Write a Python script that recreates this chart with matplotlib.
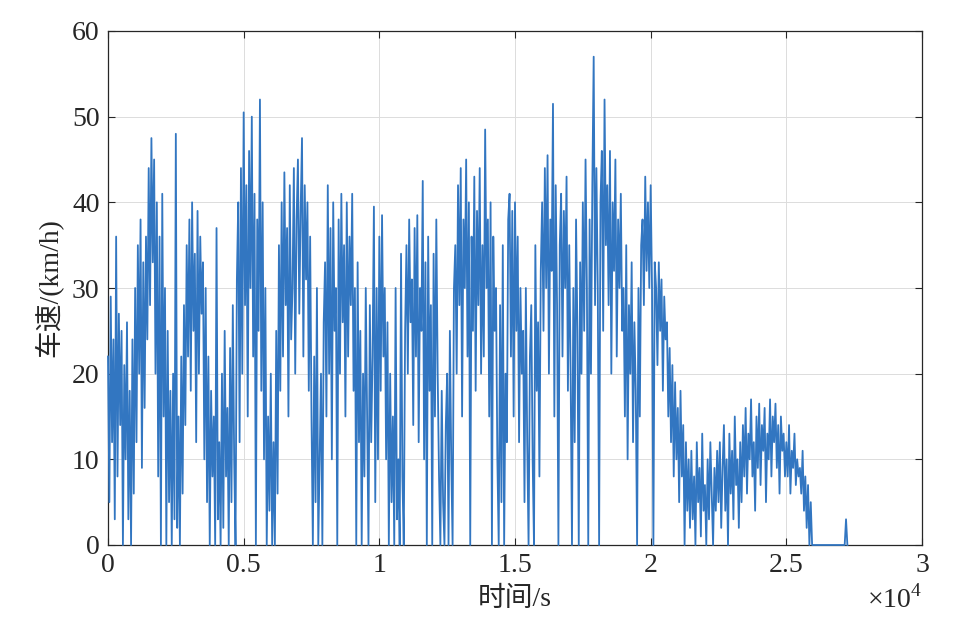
import numpy as np
import matplotlib
matplotlib.use("Agg")
import matplotlib.pyplot as plt

plt.rcParams['font.family'] = ['Liberation Serif', 'Noto Sans CJK SC', 'DejaVu Sans']
plt.rcParams['mathtext.fontset'] = 'custom'
plt.rcParams['mathtext.rm'] = 'Liberation Serif'

# sampling step of the hand-read trace (s)
t_step = 50

# speed (km/h), 50 s apart, in 2500 s segments
seg_a = [22, 5, 29, 12, 24, 3,
         36, 8, 27, 14, 25, 0, 21, 10, 26, 3, 18, 0, 24, 6,
         30, 12, 35, 20, 38, 9, 33, 16, 36, 24,
         44, 28, 47.5, 33, 45, 20,
         40, 8, 36, 0, 41, 15, 30, 0, 25, 5,
         18, 0, 20, 3]
seg_b = [48, 2, 15, 0, 22, 6,
         28, 14, 35, 22, 38, 18, 40, 25, 34, 12, 39, 20, 36, 27, 33, 10,
         30, 5, 22, 0, 18, 8, 15, 0, 37, 3, 12, 0,
         20, 2, 25, 8, 16, 0, 23, 5, 28, 10, 0, 31,
         40, 12, 44, 20]
seg_c = [50.5, 28, 42, 15, 46, 30, 50, 22, 41, 0, 38, 25, 52, 18, 40, 10,
         30, 0, 15, 4, 20, 0, 12, 0, 25, 6,
         35, 18, 40, 22, 43.5, 28, 37, 15, 42, 24,
         30, 44, 20, 38, 45, 27, 39, 47.5, 22, 42, 31, 40, 18, 36]
seg_d = [15, 0, 22, 5, 30, 0, 10, 20, 0, 26,
         33, 15, 42, 20, 37, 10, 40, 25, 30, 0,
         38, 20, 41, 26, 35, 15, 40, 22, 36, 28, 41, 18, 30, 0, 33, 12,
         25, 0, 20, 8, 30, 15, 0, 28, 12, 22, 39.5, 5, 30, 10]
seg_e = [36, 18, 38.5, 22, 30, 10, 26, 0, 20, 5,
         15, 0, 30, 3, 10, 0, 34, 8, 0, 25,
         35, 20, 38, 26, 31, 14, 37, 22, 38.5, 12, 30, 25, 42.5, 10, 33, 0,
         36, 18, 28, 0, 34, 15, 38, 20,
         8, 0, 18, 5, 0, 14]
seg_f = [20, 0, 25, 10, 0, 30,
         35, 20, 42, 28, 44, 15, 38, 30, 45, 22, 40, 0, 36, 25, 43, 18, 39, 28, 44, 20,
         35, 22, 48.5, 30, 38, 15, 40, 0, 36, 25,
         30, 10, 0, 28, 5, 35, 0, 20, 12, 38,
         41, 22, 39, 15]
seg_g = [40, 25, 36, 12, 30, 20,
         25, 5, 30, 12, 0, 22, 28, 10, 0, 35, 18, 26, 8, 32,
         40, 25, 44, 30, 45.5, 20, 38, 32, 51.5, 15, 42, 28, 0, 35, 41, 22, 39, 30, 43, 18,
         35, 20, 0, 30, 12, 38, 25, 0, 33, 20]
seg_h = [40, 25, 45, 30, 0, 38, 20, 42, 57, 28,
         44, 30, 0, 40, 46, 25, 52, 35, 42, 28, 46, 20, 40, 32, 45, 22, 38, 30, 41, 25,
         30, 15, 35, 10, 28, 20, 33, 12, 26, 18, 0, 30, 15, 35,
         38, 28, 43, 32, 40, 30]
seg_i = [42, 30, 0, 33,
         30, 21, 33, 25, 31, 18, 29, 24,
         26, 15, 23, 12, 21, 8, 19, 10,
         16, 5, 18, 8, 14, 0, 12, 4, 10, 2,
         11, 3, 8, 0, 12, 5, 9, 1, 13, 4, 7, 0, 10, 3, 12, 6, 0, 9, 4, 11]
seg_j = [5, 12, 2, 9, 14, 4, 10, 0, 13, 6, 11, 3, 15, 7, 10, 2, 12, 5, 14, 8,
         16, 6, 13, 10, 17, 8, 12, 4, 15, 9, 16.5, 7, 14, 11, 16, 5, 13, 10, 17, 8,
         15, 12, 16.5, 9, 14, 6, 15, 11, 13, 8]
seg_k = [12, 8, 14, 6, 11, 9, 13, 7, 10, 8,
         9, 6, 11, 4, 8, 2, 7, 0, 5, 0,
         0, 0, 0, 0, 0, 0, 0, 0, 0, 0, 0, 0, 0, 0, 0, 0, 0, 0, 0, 0, 0, 0, 0, 0,
         3, 0]

x_ticks = [0, 5000, 10000, 15000, 20000, 25000, 30000]
x_tick_labels = ['0', '0.5', '1', '1.5', '2', '2.5', '3']
y_ticks = [0, 10, 20, 30, 40, 50, 60]

speed = np.array(seg_a + seg_b + seg_c + seg_d + seg_e + seg_f + seg_g +
                 seg_h + seg_i + seg_j + seg_k, dtype=float)
time = np.arange(len(speed)) * t_step

fig = plt.figure(figsize=(9.57, 6.35), dpi=100)
ax = fig.add_axes([108/957, 1 - 545/635, (922 - 108)/957, (545 - 31)/635])

ax.plot(time, speed, color='#3276c1', linewidth=1.3, clip_on=False, zorder=3)

ax.set_xlim(0, 30000)
ax.set_ylim(0, 60)
ax.set_xticks(x_ticks)
ax.set_xticklabels(x_tick_labels)
ax.set_yticks(y_ticks)
ax.grid(True, color='#dcdcdc', linewidth=0.7)
ax.set_axisbelow(True)
ax.tick_params(direction='in', top=True, right=True, length=5, width=0.8,
               labelsize=20, colors='#262626', pad=6)
for s in ax.spines.values():
    s.set_color('#262626')
    s.set_linewidth(0.9)

ax.set_xlabel('时间/s', fontsize=20, labelpad=6, color='#262626')
ax.set_ylabel('车速/(km/h)', fontsize=20, labelpad=6, color='#262626')
ax.text(1.0, -0.105, r'$\times$10$^{4}$', transform=ax.transAxes, ha='right',
        va='center', fontsize=20, color='#262626')

fig.savefig('out.png', dpi=100)
